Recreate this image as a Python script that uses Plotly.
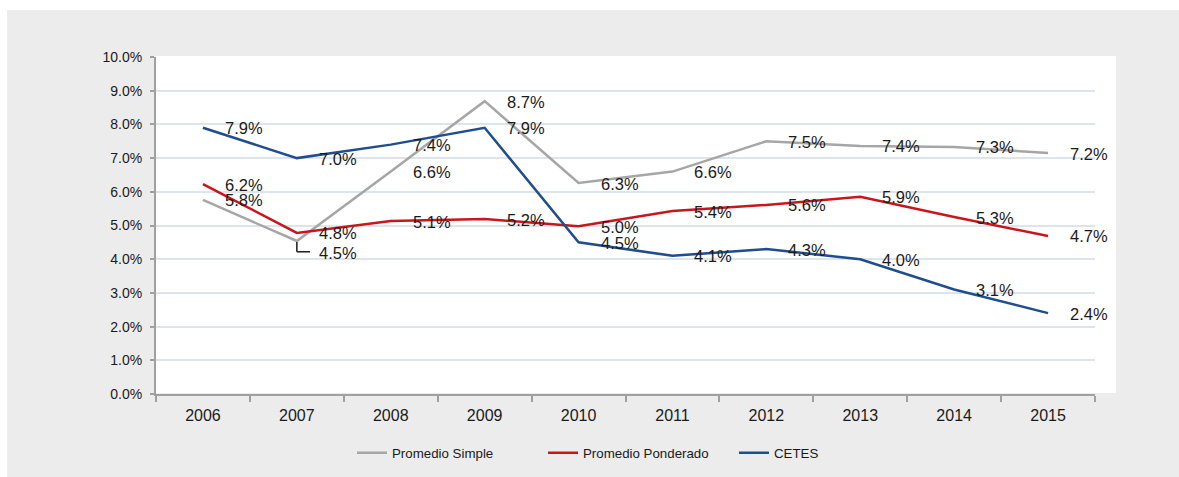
import plotly.graph_objects as go

years = ["2006", "2007", "2008", "2009", "2010", "2011", "2012", "2013", "2014", "2015"]
promedio_simple = [5.76, 4.54, 6.6, 8.69, 6.26, 6.6, 7.5, 7.36, 7.33, 7.15]
promedio_ponderado = [6.23, 4.78, 5.13, 5.19, 4.98, 5.43, 5.61, 5.85, 5.25, 4.69]
cetes = [7.9, 7.0, 7.4, 7.9, 4.5, 4.1, 4.3, 4.0, 3.1, 2.4]

simple_labels = ["5.8%", "4.5%", "6.6%", "8.7%", "6.3%", "6.6%", "7.5%", "7.4%", "7.3%", "7.2%"]
ponderado_labels = ["6.2%", "4.8%", "5.1%", "5.2%", "5.0%", "5.4%", "5.6%", "5.9%", "5.3%", "4.7%"]
cetes_labels = ["7.9%", "7.0%", "7.4%", "7.9%", "4.5%", "4.1%", "4.3%", "4.0%", "3.1%", "2.4%"]

y_ticks = [0, 1, 2, 3, 4, 5, 6, 7, 8, 9, 10]

series = [
    ("Promedio Simple", promedio_simple, simple_labels, "#a6a6a6"),
    ("Promedio Ponderado", promedio_ponderado, ponderado_labels, "#c8161d"),
    ("CETES", cetes, cetes_labels, "#1f4e8c"),
]

# label that sits below its point with a leader line (Promedio Simple, 2007)
moved_series = "Promedio Simple"
moved_idx = 1

fig = go.Figure()
for name, vals, labs, col in series:
    fig.add_trace(go.Scatter(x=years, y=vals, mode="lines", name=name,
                             line=dict(color=col, width=2.5), hoverinfo="skip"))

TXT_FONT = dict(family="Liberation Sans, Arial", size=16.5, color="#1a1a1a")
annotations = []
for name, vals, labs, col in series:
    for i, (v, lab) in enumerate(zip(vals, labs)):
        moved = (name == moved_series and i == moved_idx)
        annotations.append(dict(x=i, y=v, xref="x", yref="y", text=lab, showarrow=False,
                                xanchor="left", yanchor="middle", xshift=20,
                                yshift=-12 if moved else -0.5, font=TXT_FONT))

W, H = 1179, 477
L, R, T, B = 156, 84, 57, 83
pw, ph = W - L - R, H - T - B

def px(x):
    return (x - L) / pw

def py(y):
    return (H - B - y) / ph

lead_y = promedio_simple[moved_idx]
lead_drop = 0.32
lead_run = 0.14
shapes = [
    dict(type="rect", xref="paper", yref="paper", x0=px(7), x1=px(1179), y0=py(477), y1=py(10),
         fillcolor="#ececec", line=dict(width=0), layer="below"),
    dict(type="rect", xref="paper", yref="paper", x0=px(156), x1=px(1116), y0=py(393), y1=py(56),
         fillcolor="white", line=dict(width=0), layer="below"),
    dict(type="line", xref="x", yref="y", x0=moved_idx, x1=moved_idx,
         y0=lead_y - 0.03, y1=lead_y - lead_drop, line=dict(color="#1a1a1a", width=1.5)),
    dict(type="line", xref="x", yref="y", x0=moved_idx, x1=moved_idx + lead_run,
         y0=lead_y - lead_drop, y1=lead_y - lead_drop, line=dict(color="#1a1a1a", width=1.5)),
]

fig.update_layout(
    width=W, height=H,
    margin=dict(l=L, r=R, t=T, b=B, pad=0, autoexpand=False),
    paper_bgcolor="white", plot_bgcolor="white",
    font=dict(family="Liberation Sans, Arial", color="#1a1a1a"),
    showlegend=True,
    legend=dict(orientation="h", x=px(352), y=py(453), xanchor="left", yanchor="middle",
                bgcolor="rgba(0,0,0,0)", font=dict(size=13.3, color="#1a1a1a"),
                entrywidth=146, entrywidthmode="pixels", tracegroupgap=0),
    annotations=annotations,
    shapes=shapes,
    xaxis=dict(type="category", range=[-0.5, 9.5], tickson="boundaries", ticks="outside",
               ticklen=6, tickwidth=1.5, tickcolor="#a0a0a0", showline=True, linecolor="#a0a0a0",
               linewidth=2, showgrid=False, tickfont=dict(size=16, color="#1a1a1a"),
               ticklabelstandoff=6, fixedrange=True),
    yaxis=dict(range=[0, 10], tickvals=y_ticks, ticktext=[f"{t:.1f}%" for t in y_ticks],
               ticks="outside", ticklen=4, tickwidth=1.5, tickcolor="#a0a0a0", showline=True,
               linecolor="#a0a0a0", linewidth=2, showgrid=True, gridcolor="#dde4ea", gridwidth=2,
               zeroline=False, tickfont=dict(size=14, color="#1a1a1a"),
               ticklabelstandoff=5, fixedrange=True),
)

fig.write_html("out.html", config={"displayModeBar": False},
               post_script="document.body.style.margin='0';document.body.style.overflow='hidden';")
